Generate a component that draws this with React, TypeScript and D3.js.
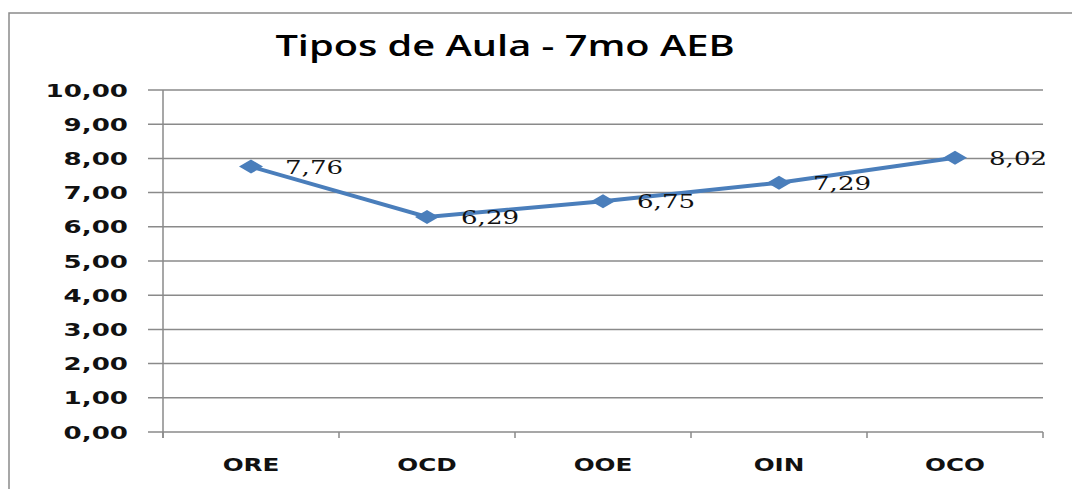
import React from 'react';
import * as d3 from 'd3';

const width = 1072;
const height = 489;

const categories = ['ORE', 'OCD', 'OOE', 'OIN', 'OCO'];
const values = [7.76, 6.29, 6.75, 7.29, 8.02];
const yTicks = [0, 1, 2, 3, 4, 5, 6, 7, 8, 9, 10];
const title = 'Tipos de Aula - 7mo AEB';

const plotLeft = 163;
const plotRight = 1043;
const plotTop = 90;
const plotBottom = 432;

// the picture is stretched sideways, so the text is too
const sx = 1.45;
const gridColor = '#8a8a8a';
const lineColor = '#4a7ebb';

const x = d3.scaleBand<string>().domain(categories).range([plotLeft, plotRight]);
const y = d3.scaleLinear().domain([0, 10]).range([plotBottom, plotTop]);

const fmt = (v: number) => d3.format('.2f')(v).replace('.', ',');

const line = d3
  .line<number>()
  .x((_, i) => x(categories[i])! + x.bandwidth() / 2)
  .y((d) => y(d));

const bounds = d3.range(categories.length + 1).map((i) => plotLeft + i * x.bandwidth());

const App = () => {
  return (
    <svg
      width={width}
      height={height}
      style={{ position: 'absolute', left: 0, top: 0, background: '#fff' }}
    >
      <rect x={9} y={13} width={1200} height={600} fill="#fff" stroke={gridColor} strokeWidth={1.5} />

      <text
        transform={`translate(505,56) scale(1.42,1)`}
        textAnchor="middle"
        fontFamily="'Open Sans', sans-serif"
        fontWeight={600}
        fontSize={28}
        fill="#000"
      >
        {title}
      </text>

      {yTicks.map((t) => (
        <g key={t}>
          <line x1={plotLeft - 15} x2={plotRight} y1={y(t)} y2={y(t)} stroke={gridColor} strokeWidth={1.5} />
          <text
            transform={`translate(128,${y(t) + 6.5}) scale(${sx},1)`}
            textAnchor="end"
            fontFamily="'DejaVu Sans', sans-serif"
            fontWeight="bold"
            fontSize={18}
            fill="#111"
          >
            {fmt(t)}
          </text>
        </g>
      ))}

      <line x1={plotLeft} x2={plotLeft} y1={plotTop} y2={plotBottom + 6} stroke={gridColor} strokeWidth={1.5} />
      {bounds.map((b, i) => (
        <line key={i} x1={b} x2={b} y1={plotBottom} y2={plotBottom + 6} stroke={gridColor} strokeWidth={1.5} />
      ))}

      {categories.map((c) => (
        <text
          key={c}
          transform={`translate(${x(c)! + x.bandwidth() / 2},471) scale(${sx},1)`}
          textAnchor="middle"
          fontFamily="'DejaVu Sans', sans-serif"
          fontWeight="bold"
          fontSize={17}
          fill="#111"
        >
          {c}
        </text>
      ))}

      <path d={line(values)!} fill="none" stroke={lineColor} strokeWidth={4} />

      {values.map((v, i) => {
        const cx = x(categories[i])! + x.bandwidth() / 2;
        const cy = y(v);
        return (
          <g key={i}>
            <path d="M0,-7L12,0L0,7L-12,0Z" transform={`translate(${cx},${cy})`} fill={lineColor} />
            <text
              transform={`translate(${cx + 34},${cy + 7}) scale(${sx},1)`}
              fontFamily="'DejaVu Serif', serif"
              fontSize={18}
              fill="#111"
            >
              {fmt(v)}
            </text>
          </g>
        );
      })}
    </svg>
  );
};

export default App;
